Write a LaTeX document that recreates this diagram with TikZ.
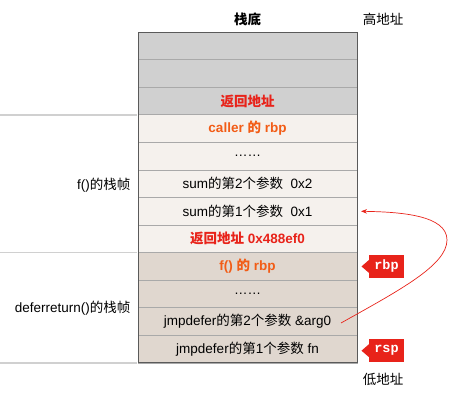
\documentclass[tikz,border=0pt]{standalone}
\usepackage{fontspec}
\setmainfont{Liberation Sans}
\newfontfamily\cjk{Noto Sans CJK SC}
\newfontfamily\tagmono{Liberation Mono}
\usetikzlibrary{arrows.meta}
\newcommand\cn[1]{{\cjk #1}}
\definecolor{topgray}{HTML}{D0D0D0}
\definecolor{fbg}{HTML}{F5F1ED}
\definecolor{dbg}{HTML}{E0D7CF}
\definecolor{rowline}{HTML}{A9A9A9}
\definecolor{border}{HTML}{5A5A5A}
\definecolor{sepline}{HTML}{D0D0D0}
\definecolor{redtxt}{HTML}{E8231A}
\definecolor{orangetxt}{HTML}{F25C16}
\definecolor{tagred}{HTML}{E8231A}
\tikzset{
  row/.style={draw=rowline, line width=0.8pt, minimum width=219pt, minimum height=27.58pt, inner sep=0pt, outer sep=0pt, anchor=north},
  toprow/.style={row, fill=topgray},
  frow/.style={row, fill=fbg},
  drow/.style={row, fill=dbg},
  redb/.style={text=redtxt, font=\fontsize{13.5}{16}\selectfont\bfseries},
  orangeb/.style={text=orangetxt, font=\fontsize{13.5}{16}\selectfont\bfseries},
  tagbox/.style={fill=tagred, text=white, font=\fontsize{13.5}{16}\selectfont\tagmono\bfseries, minimum width=35pt, minimum height=23pt, inner sep=0pt, outer sep=0pt, anchor=west},
  sepstyle/.style={draw=sepline, line width=1.6pt},
  arrowred/.style={draw=redtxt, line width=0.7pt, -{Stealth[length=6pt,width=4.5pt]}},
}
\begin{document}
\begin{tikzpicture}[x=1pt,y=-1pt, font=\fontsize{13.5}{16}\selectfont]
\useasboundingbox (0,0) rectangle (458,407);
% rows
\node[toprow] (r0) at (247.5,32) {};
\node[toprow] (r1) at (r0.south) {};
\node[toprow, redb] (r2) at (r1.south) {\cn{返回地址}};
\node[frow, orangeb] (r3) at (r2.south) {caller \cn{的} rbp};
\node[frow] (r4) at (r3.south) {……};
\node[frow] (r5) at (r4.south) {sum\cn{的第}2\cn{个参数}\ \ 0x2};
\node[frow] (r6) at (r5.south) {sum\cn{的第}1\cn{个参数}\ \ 0x1};
\node[frow, redb] (r7) at (r6.south) {\cn{返回地址} 0x488ef0};
\node[drow, orangeb] (r8) at (r7.south) {f() \cn{的} rbp};
\node[drow] (r9) at (r8.south) {……};
\node[drow] (r10) at (r9.south) {jmpdefer\cn{的第}2\cn{个参数} \&arg0};
\node[drow] (r11) at (r10.south) {jmpdefer\cn{的第}1\cn{个参数} fn};
\draw[border, line width=1pt] (r0.north west) rectangle (r11.south east);
% headings
\node[font=\fontsize{13.5}{16}\selectfont\cjk\bfseries] (bottom) at (247.5,19) {栈底};
\node (high) at (383,19) {\cn{高地址}};
\node (low) at (383,379) {\cn{低地址}};
% frame separators
\coordinate (s1) at (0,114.75);
\coordinate (s2) at (0,252.67);
\coordinate (s3) at (0,363);
\draw[sepstyle] (s1) -- ([xshift=-1.5pt]s1 -| r3.west);
\draw[sepstyle] (s2) -- ([xshift=-1.5pt]s2 -| r8.west);
\draw[sepstyle] (s3) -- ([xshift=-1.5pt]s3 -| r11.west);
\node[anchor=east] (lf) at (134,185) {f()\cn{的栈帧}};
\node[anchor=east] (ld) at (134,308) {deferreturn()\cn{的栈帧}};
% tags
\node[tagbox] (trbp) at ([xshift=12pt]r8.east) {rbp};
\fill[tagred] ([yshift=6.5pt]trbp.west) -- ([xshift=-7.5pt]trbp.west) -- ([yshift=-6.5pt]trbp.west) -- cycle;
\node[tagbox] (trsp) at ([xshift=12pt,yshift=-1.5pt]r11.east) {rsp};
\fill[tagred] ([yshift=6.5pt]trsp.west) -- ([xshift=-7.5pt]trsp.west) -- ([yshift=-6.5pt]trsp.west) -- cycle;
% curve
\coordinate (cs) at (341,323);
\coordinate (cm) at (447,240);
\draw[arrowred] (cs) .. controls (400,290) and (447,265) .. (cm) .. controls (447,215) and (400,212) .. ([xshift=4pt]r6.east);
\end{tikzpicture}
\end{document}
